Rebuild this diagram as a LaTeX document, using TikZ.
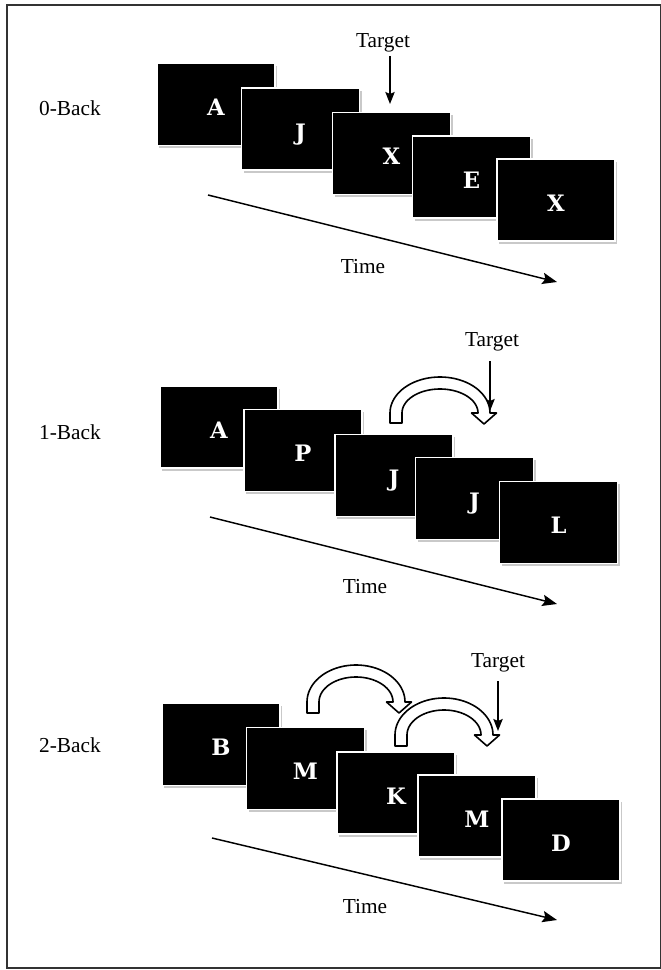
\documentclass[tikz,border=0pt]{standalone}
\usepackage{fontspec}
\setmainfont{Liberation Serif}
\newfontfamily\letterfont{DejaVu Serif}
\usetikzlibrary{arrows.meta,shadows}

% hollow bent arrow: centre x, centre y, half-span, rise, foot y
\newcommand{\hollowarc}[5]{%
  \pgfmathsetmacro{\aO}{#3+6}\pgfmathsetmacro{\bO}{#4+6}%
  \pgfmathsetmacro{\aI}{#3-6}\pgfmathsetmacro{\bI}{#4-6}%
  \draw[hollow] (#1-\aO,#5) -- plot[domain=180:0,samples=50] ({#1+\aO*cos(\x)},{#2-\bO*sin(\x)})
    -- (#1+#3+12.5,#2) -- (#1+#3,#2+11) -- (#1+#3-12.5,#2)
    -- plot[domain=0:180,samples=50] ({#1+\aI*cos(\x)},{#2-\bI*sin(\x)})
    -- (#1-\aI,#5) -- cycle;}

\tikzset{
  card/.style={draw=white, line width=1.1pt, fill=black, text=white,
    minimum width=88.5pt, minimum height=61.5pt, inner sep=0pt,
    text height=17pt, text depth=0pt,
    font=\letterfont\bfseries\fontsize{17}{17}\selectfont,
    drop shadow={shadow xshift=1.5pt, shadow yshift=-2.2pt, fill=black!35, opacity=0.6}},
  lbl/.style={font=\fontsize{16}{18}\selectfont, inner sep=0pt},
  timearrow/.style={line width=1.1pt, -{Stealth[length=11pt,width=8.5pt,inset=2pt]}},
  pointer/.style={line width=1.1pt, -{Stealth[length=9pt,width=7pt,inset=1.5pt]}},
  hollow/.style={draw=black, fill=white, line width=1.2pt, line join=round},
}

\begin{document}
\begin{tikzpicture}[x=0.75pt,y=-0.75pt]
\useasboundingbox (0,0) rectangle (660,970);
\fill[white] (0,0) rectangle (660,970);
\draw[line width=1.6pt, black!80] (7,5) rectangle (661,968);

% ---------- 0-Back ----------
\node[lbl] (l0) at (70,108) {0-Back};
\node[card] (a0) at (216,104.5) {A};
\node[card] (a1) at (300.5,129) {J};
\node[card] (a2) at (391.5,153.5) {X};
\node[card] (a3) at (471.5,177) {E};
\node[card] (a4) at (556,200) {X};
\node[lbl] (t0) at (383,43) {Target};
\coordinate (t0e) at (390,104);
\draw[pointer] (390,56) -- (t0e);
\coordinate (s0) at (208,195);
\coordinate (e0) at (557,282);
\draw[timearrow] (s0) -- (e0);
\node[lbl] (tm0) at (363,267) {Time};

% ---------- 1-Back ----------
\node[lbl] (l1) at (70,432) {1-Back};
\node[card] (b0) at (219,427) {A};
\node[card] (b1) at (303,450.5) {P};
\node[card] (b2) at (394,475.5) {J};
\node[card] (b3) at (474.5,498.5) {J};
\node[card] (b4) at (558.5,522.5) {L};
\node[lbl] (t1) at (492,342) {Target};
\coordinate (t1e) at (490,411);
\draw[pointer] (490,361) -- (t1e);
\coordinate (s1) at (210,517);
\coordinate (e1) at (557,604);
\draw[timearrow] (s1) -- (e1);
\node[lbl] (tm1) at (365,587) {Time};
\hollowarc{440}{413}{44}{30}{423}

% ---------- 2-Back ----------
\node[lbl] (l2) at (70,745) {2-Back};
\node[card] (c0) at (221,744.5) {B};
\node[card] (c1) at (305.5,768.5) {M};
\node[card] (c2) at (396,793) {K};
\node[card] (c3) at (477,816) {M};
\node[card] (c4) at (561,840) {D};
\node[lbl] (t2) at (498,663) {Target};
\coordinate (t2e) at (498,731);
\draw[pointer] (498,681) -- (t2e);
\coordinate (s2) at (212,838);
\coordinate (e2) at (557,920);
\draw[timearrow] (s2) -- (e2);
\node[lbl] (tm2) at (365,907) {Time};
\hollowarc{356}{702}{43}{31}{713}
\hollowarc{444}{735}{43}{31}{746}
\end{tikzpicture}
\end{document}
